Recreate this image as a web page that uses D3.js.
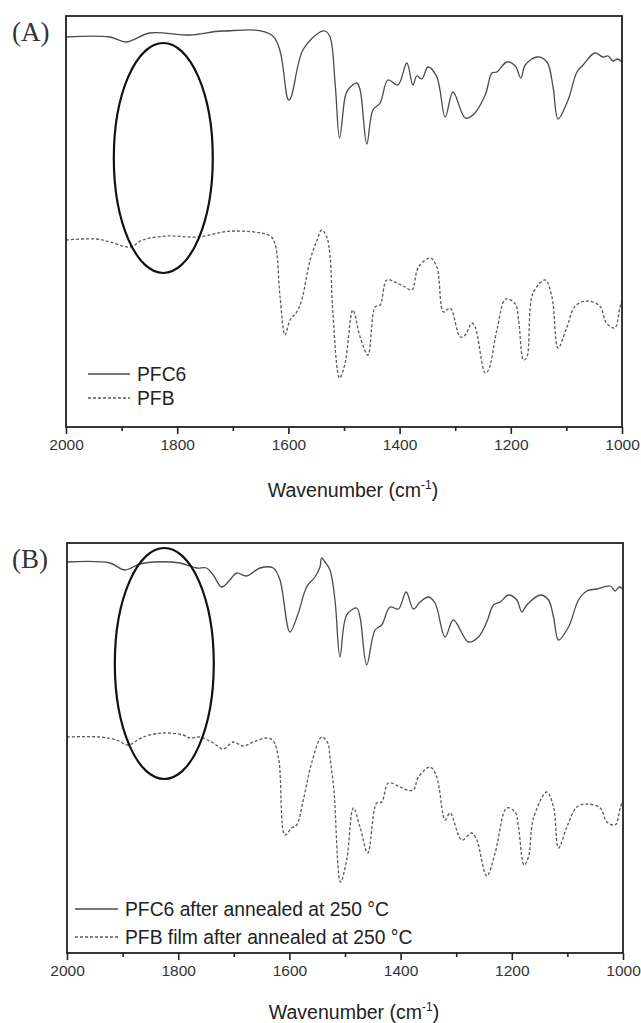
<!DOCTYPE html>
<html>
<head>
<meta charset="utf-8">
<script src="https://cdn.jsdelivr.net/npm/d3@7"></script>
<style>
  body { margin: 0; background: #fff; }
  svg { display: block; }
  .tick text { font-family: Arial, "Liberation Sans", sans-serif; fill: #333; }
</style>
</head>
<body>
<svg id="chart"></svg>
<script>
// FTIR spectra, [wavenumber cm-1, transmittance a.u.]
const pfc6 = [
  [2000, 39.0], [1921, 39.0], [1892, 38.5], [1849, 39.4], [1777, 39.2], [1718, 39.6], [1628, 39.1],
  [1599, 32.7], [1574, 37.7], [1543, 39.5], [1534, 39.6], [1525, 39.0], [1516, 34.4], [1508, 28.9],
  [1498, 33.0], [1493, 33.7], [1477, 34.4], [1471, 33.7], [1459, 28.3], [1448, 31.7], [1435, 32.4],
  [1421, 34.7], [1403, 34.2], [1387, 36.4], [1376, 34.2], [1369, 35.1], [1360, 34.8], [1349, 36.0],
  [1333, 35.0], [1318, 31.0], [1304, 33.5], [1282, 30.9], [1268, 31.2], [1246, 33.2], [1234, 35.4],
  [1225, 35.5], [1207, 36.5], [1192, 36.1], [1182, 34.9], [1174, 36.2], [1153, 37.0], [1135, 36.5],
  [1124, 34.0], [1115, 30.8], [1097, 32.7], [1081, 35.5], [1070, 36.2], [1049, 37.4], [1034, 37.0],
  [1025, 37.1], [1016, 36.6], [1008, 36.8], [1000, 36.5]
];
const pfb = [
  [2000, 18.7], [1945, 18.8], [1921, 18.5], [1885, 18.0], [1862, 18.7], [1818, 19.1], [1764, 19.0],
  [1700, 19.6], [1633, 19.1], [1624, 18.3], [1615, 13.0], [1606, 9.2], [1597, 10.7], [1585, 11.5],
  [1576, 12.7], [1561, 16.7], [1549, 18.6], [1540, 19.7], [1531, 19.0], [1525, 17.0], [1520, 11.4],
  [1508, 4.9], [1498, 6.4], [1484, 11.7], [1471, 9.0], [1457, 7.2], [1444, 12.0], [1435, 12.2],
  [1423, 14.7], [1405, 14.4], [1390, 14.0], [1378, 13.7], [1366, 16.0], [1345, 16.9], [1333, 16.0],
  [1321, 11.5], [1309, 11.9], [1291, 9.0], [1282, 9.2], [1270, 10.4], [1264, 10.0], [1246, 5.4],
  [1240, 5.7], [1225, 9.7], [1209, 12.8], [1192, 12.3], [1186, 10.7], [1177, 6.7], [1171, 7.0],
  [1160, 13.4], [1138, 14.7], [1126, 13.0], [1115, 7.9], [1099, 10.0], [1084, 12.1], [1063, 12.6],
  [1040, 12.1], [1028, 10.4], [1013, 9.9], [1004, 11.9], [1000, 12.7]
];
const pfc6Annealed = [
  [2000, 39.1], [1923, 39.0], [1896, 38.3], [1869, 38.9], [1845, 39.1], [1797, 39.0], [1767, 38.5],
  [1749, 38.5], [1737, 37.8], [1722, 36.6], [1707, 37.3], [1695, 38.0], [1677, 37.7], [1653, 38.5],
  [1629, 38.5], [1617, 37.3], [1599, 32.1], [1584, 34.0], [1569, 36.6], [1554, 37.6], [1545, 38.6],
  [1542, 39.5], [1536, 39.1], [1527, 38.3], [1518, 35.3], [1509, 29.6], [1497, 33.8], [1479, 34.5],
  [1473, 33.6], [1461, 28.8], [1446, 32.3], [1434, 32.8], [1419, 34.6], [1404, 34.4], [1390, 36.1],
  [1377, 34.4], [1365, 35.1], [1350, 35.6], [1338, 35.0], [1320, 31.6], [1305, 33.3], [1278, 31.1],
  [1260, 31.6], [1245, 33.1], [1233, 34.8], [1221, 35.1], [1206, 35.8], [1191, 35.3], [1182, 34.1],
  [1173, 34.8], [1149, 35.8], [1134, 35.3], [1125, 33.6], [1116, 31.3], [1098, 32.6], [1080, 35.3],
  [1065, 36.2], [1047, 36.4], [1023, 36.7], [1014, 36.2], [1007, 36.6], [1000, 36.4]
];
const pfbAnnealed = [
  [2000, 21.6], [1941, 21.6], [1911, 21.3], [1890, 20.8], [1863, 21.6], [1827, 22.0], [1791, 21.8],
  [1779, 21.5], [1761, 21.6], [1737, 21.0], [1719, 20.4], [1701, 21.1], [1683, 20.7], [1665, 21.1],
  [1641, 21.5], [1629, 21.2], [1619, 19.3], [1608, 11.8], [1596, 12.5], [1587, 12.8], [1575, 15.3],
  [1560, 19.0], [1542, 21.6], [1531, 21.0], [1527, 19.5], [1520, 16.3], [1508, 7.1], [1497, 9.3],
  [1485, 14.5], [1473, 12.6], [1459, 10.0], [1443, 15.0], [1434, 15.1], [1422, 17.0], [1401, 16.6],
  [1389, 16.3], [1377, 16.3], [1368, 17.6], [1347, 18.6], [1335, 17.6], [1320, 13.3], [1311, 14.0],
  [1290, 11.3], [1272, 12.0], [1263, 11.3], [1245, 7.7], [1230, 10.0], [1209, 14.5], [1194, 14.1],
  [1188, 12.6], [1178, 8.8], [1170, 9.6], [1161, 13.5], [1137, 16.1], [1125, 14.6], [1116, 10.5],
  [1101, 12.6], [1083, 14.6], [1065, 14.9], [1041, 14.5], [1029, 13.1], [1014, 12.8], [1005, 14.5],
  [1000, 15.3]
];

const majorTicks = [2000, 1800, 1600, 1400, 1200, 1000];
const minorTicks = [1900, 1700, 1500, 1300, 1100];
const legendA = ["PFC6", "PFB"];
const legendB = ["PFC6 after annealed at 250 °C", "PFB film after annealed at 250 °C"];

const width = 641, height = 1023;
const svg = d3.select("#chart").attr("width", width).attr("height", height);

const panels = [
  { tag: "(A)", left: 66, right: 622, top: 16, bottom: 427, yMax: 41.1,
    solid: pfc6, dashed: pfb, names: legendA, legendGap: 24,
    legendX: 88, legendLen: 42, legendY: 374, ellipse: [1825, 26.9, 89, 11.5], titleY: 497 },
  { tag: "(B)", left: 67, right: 623, top: 543, bottom: 953, yMax: 41.0,
    solid: pfc6Annealed, dashed: pfbAnnealed, names: legendB, legendGap: 28,
    legendX: 75, legendLen: 43, legendY: 909, ellipse: [1825, 28.95, 89, 11.55], titleY: 1019 }
];

panels.forEach(p => {
  const x = d3.scaleLinear().domain([2000, 1000]).range([p.left, p.right]);
  const y = d3.scaleLinear().domain([0, p.yMax]).range([p.bottom, p.top]);
  const g = svg.append("g");

  const line = d3.line()
    .x(d => x(d[0]))
    .y(d => y(d[1]))
    .curve(d3.curveCatmullRom.alpha(0.5));

  g.append("path")
    .attr("d", line(p.solid))
    .attr("fill", "none")
    .attr("stroke", "#4a4a4a")
    .attr("stroke-width", 1.3);

  g.append("path")
    .attr("d", line(p.dashed))
    .attr("fill", "none")
    .attr("stroke", "#5a5a5a")
    .attr("stroke-width", 1.3)
    .attr("stroke-dasharray", "3,2");

  // circled region
  const [ecx, ecy, erx, ery] = p.ellipse;
  g.append("ellipse")
    .attr("cx", x(ecx))
    .attr("cy", y(ecy))
    .attr("rx", Math.abs(x(ecx + erx) - x(ecx)))
    .attr("ry", y(0) - y(ery))
    .attr("fill", "none")
    .attr("stroke", "#111")
    .attr("stroke-width", 2.2);

  // frame
  g.append("rect")
    .attr("x", p.left)
    .attr("y", p.top)
    .attr("width", p.right - p.left)
    .attr("height", p.bottom - p.top)
    .attr("fill", "none")
    .attr("stroke", "#222")
    .attr("stroke-width", 1.8);

  // bottom axis
  const axis = g.append("g")
    .attr("transform", `translate(0,${p.bottom})`)
    .call(d3.axisBottom(x).tickValues(majorTicks).tickSize(7).tickPadding(5).tickFormat(d3.format("d")));
  axis.select(".domain").remove();
  axis.selectAll(".tick line").attr("stroke", "#222").attr("stroke-width", 1.6);
  axis.selectAll(".tick text").style("font-size", "15.5px");

  const minor = g.append("g")
    .attr("transform", `translate(0,${p.bottom})`)
    .call(d3.axisBottom(x).tickValues(minorTicks).tickSize(4).tickFormat(""));
  minor.select(".domain").remove();
  minor.selectAll(".tick line").attr("stroke", "#222").attr("stroke-width", 1.6);

  // axis title
  const title = g.append("text")
    .attr("x", (p.left + p.right) / 2 + 9)
    .attr("y", p.titleY)
    .attr("text-anchor", "middle")
    .style("font-family", "Arial, 'Liberation Sans', sans-serif")
    .style("font-size", "19.5px")
    .attr("fill", "#222");
  title.append("tspan").text("Wavenumber (cm");
  title.append("tspan").attr("dy", -8).style("font-size", "12px").text("-1");
  title.append("tspan").attr("dy", 8).text(")");

  // panel tag
  g.append("text")
    .attr("x", 12)
    .attr("y", p.top + 25)
    .style("font-family", "'Liberation Serif', 'Times New Roman', serif")
    .style("font-size", "27px")
    .attr("fill", "#333")
    .text(p.tag);

  // legend
  const legend = g.selectAll(".legend")
    .data(p.names)
    .enter()
    .append("g")
    .attr("transform", (d, i) => `translate(${p.legendX},${p.legendY + i * p.legendGap})`);

  legend.append("line")
    .attr("x1", 0)
    .attr("x2", p.legendLen)
    .attr("stroke", (d, i) => i === 0 ? "#4a4a4a" : "#5a5a5a")
    .attr("stroke-width", 1.3)
    .attr("stroke-dasharray", (d, i) => i === 0 ? null : "3,2");

  legend.append("text")
    .attr("x", p.legendLen + 7)
    .attr("y", 7)
    .style("font-family", "Arial, 'Liberation Sans', sans-serif")
    .style("font-size", "19.3px")
    .attr("fill", "#222")
    .text(d => d);
});
</script>
</body>
</html>
